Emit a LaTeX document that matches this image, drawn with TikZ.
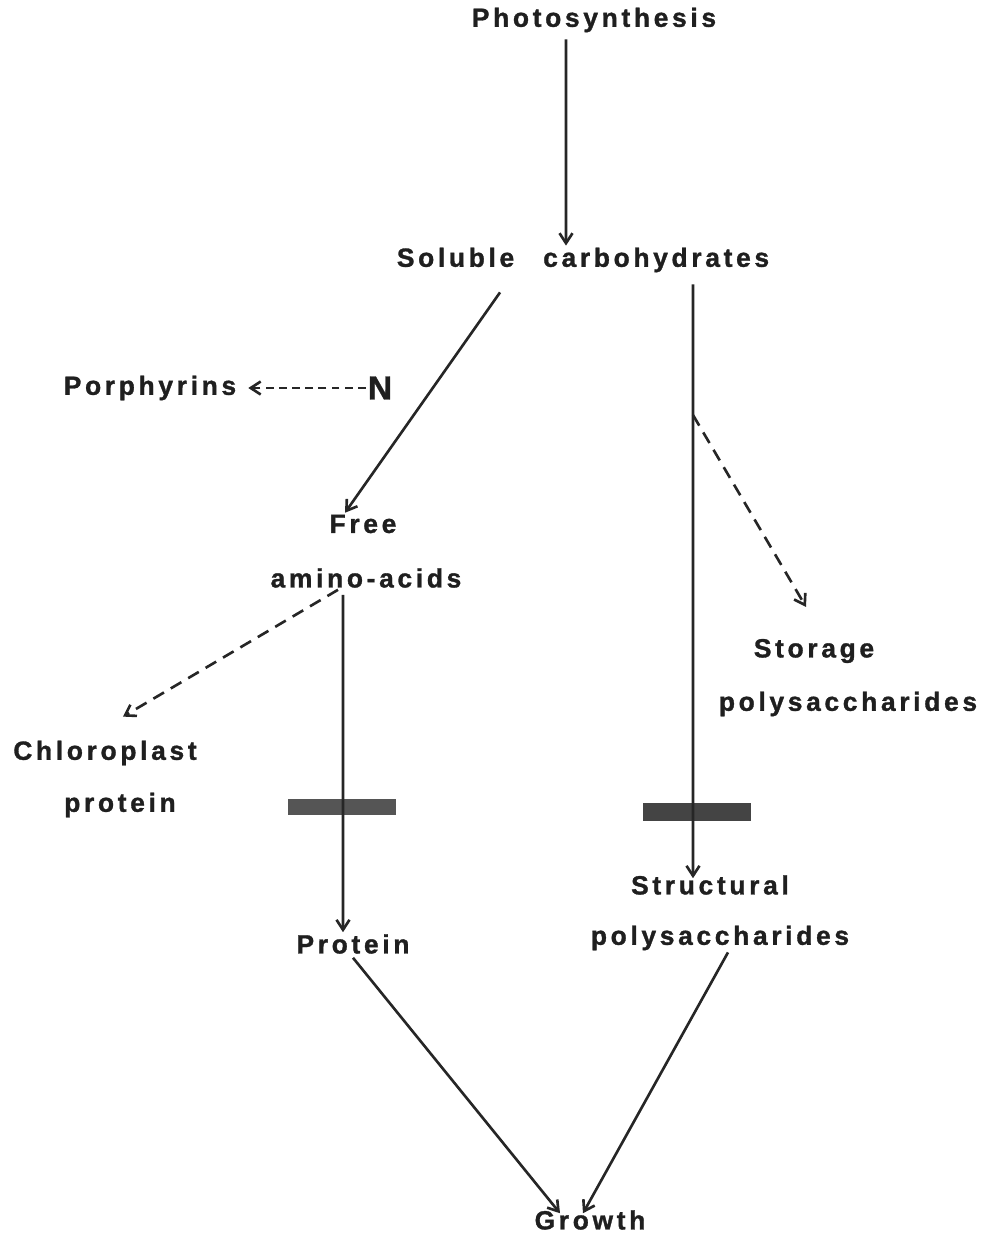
\documentclass[tikz,border=0pt]{standalone}
\usepackage{fontspec}
\setmainfont{Liberation Sans}[LetterSpace=14,BoldFont={Liberation Sans Bold},BoldFeatures={FakeBold=1.2}]
\usetikzlibrary{arrows.meta}
\definecolor{BarGrey}{HTML}{555555}

\begin{document}
\begin{tikzpicture}[
  x=0.02cm,y=-0.02cm,
  lbl/.style={inner sep=1pt,font=\bfseries\fontsize{15}{17}\selectfont,text=black!88},
  bar/.style={draw=none,fill=BarGrey,minimum width=2.16cm,minimum height=0.32cm,inner sep=0pt},
  arrow/.style={-{Straight Barb[length=2mm,width=2.6mm]},line width=1.5pt,color=black!85},
  dasharrow/.style={arrow,dash pattern=on 7pt off 4.5pt}
]
  \useasboundingbox (0,0) rectangle (988,1238);
  \node[lbl] (photo) at (594,20) {Photosynthesis};
  \node[lbl] (solcarb) at (583,260) {Soluble\hspace{1.1em}carbohydrates};
  \node[lbl] (porph) at (150,388) {Porphyrins};
  \node[lbl,font=\bfseries\fontsize{19}{21}\selectfont] (nitro) at (380,388) {N};
  \node[lbl] (free) at (363,524) {Free};
  \node[lbl] (amino) at (366,578) {amino-acids};
  \node[lbl] (chloro) at (105,753) {Chloroplast};
  \node[lbl] (chlprot) at (120,805) {protein};
  \node[lbl] (storage) at (814,651) {Storage};
  \node[lbl] (stopoly) at (848,704) {polysaccharides};
  \node[lbl] (protein) at (353,944) {Protein};
  \node[lbl] (struct) at (710,885) {Structural};
  \node[lbl] (strpoly) at (720,938) {polysaccharides};
  \node[lbl] (growth) at (590,1220) {Growth};
  \node[bar] (barL) at (342,807) {};
  \node[bar,minimum width=2.18cm,minimum height=0.36cm,fill=BarGrey!80!black] (barR) at (697,812) {};
  \coordinate (branch) at (693,415);

  \draw[arrow] ([xshift=-0.56cm,yshift=-0.1cm]photo.south) -- ([xshift=-0.34cm]solcarb.north);
  \draw[arrow] ([xshift=-1.66cm,yshift=-0.36cm]solcarb.south) -- ([xshift=-0.36cm]free.north);
  \draw[dasharrow,dash pattern=on 4.5pt off 3pt] (nitro.west) -- ([xshift=0.2cm]porph.east);
  \draw[dasharrow] ([xshift=-0.56cm]amino.south) -- ([xshift=0.36cm,yshift=0.44cm]chloro.north);
  \draw[arrow] ([xshift=-0.46cm,yshift=-0.1cm]amino.south) -- ([xshift=-0.2cm]protein.north);
  \draw[arrow] ([xshift=2.2cm,yshift=-0.2cm]solcarb.south) -- ([xshift=-0.34cm,yshift=-0.1cm]struct.north);
  \draw[dasharrow] (branch) -- ([xshift=-0.16cm,yshift=0.6cm]storage.north);
  \draw[arrow] ([yshift=-0.04cm]protein.south) -- ([xshift=-0.6cm,yshift=-0.1cm]growth.north);
  \draw[arrow] ([xshift=0.16cm]strpoly.south) -- ([xshift=-0.14cm,yshift=-0.1cm]growth.north);
\end{tikzpicture}
\end{document}
